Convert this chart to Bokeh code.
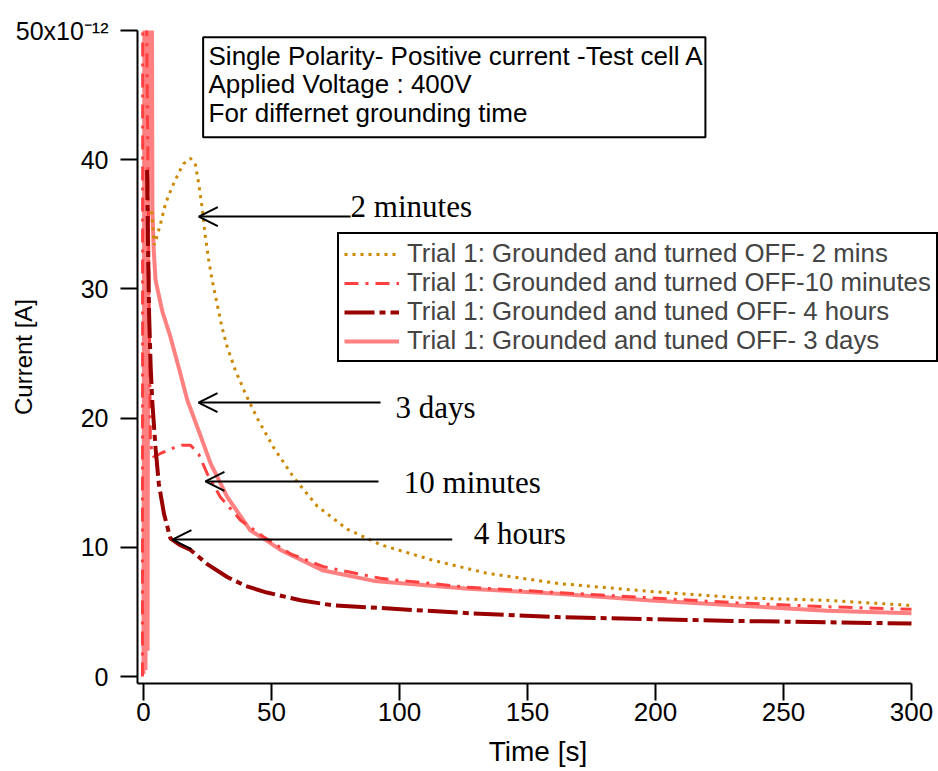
from bokeh.plotting import figure
from bokeh.models import (Range1d, FixedTicker, Legend, LegendItem, Label,
                          BoxAnnotation, Arrow, OpenHead)
from bokeh.embed import file_html
from bokeh.resources import INLINE

# ---- data (current in units of 1e-12 A, time in s) ----
t_2min = [3.2, 4.2, 4.7, 6.6, 8.6, 11.2, 13.8, 15.7, 18.4, 20.3, 21.6, 22.9, 24.2, 25.5,
          26.8, 28.8, 30.7, 32.7, 35.9, 39.8, 44.4, 50.9, 58.7, 67.8, 79.6, 92.6, 113,
          134, 162, 197, 232, 267, 300]
i_2min = [36.0, 33.4, 33.7, 35.0, 36.6, 37.9, 39.0, 39.7, 40.1, 39.6, 38.1, 36.3, 34.0, 32.2,
          30.7, 28.8, 27.0, 25.5, 23.7, 21.9, 20.0, 17.7, 15.4, 13.2, 11.4, 10.2, 9.0,
          8.0, 7.2, 6.6, 6.1, 5.9, 5.5]

t_10min = [-0.4, -0.3, 0.8, 2.7, 4.0, 7.0, 11.8, 15.0, 18.4, 21.6, 24.9, 30.0, 37.9, 47.0,
           57.4, 70.3, 92.6, 127, 162, 197, 232, 267, 300]
i_10min = [0, 60, 60, 18.0, 17.0, 17.3, 17.7, 17.9, 17.9, 17.2, 15.7, 13.9, 12.1, 10.8,
           9.5, 8.5, 7.6, 6.9, 6.5, 6.1, 5.7, 5.4, 5.2]

t_4h = [1.4, 1.8, 2.2, 2.8, 3.4, 4.7, 6.0, 8.0, 10.5, 14.0, 18.4, 24.9, 32.7, 40, 48.2,
        61.3, 74.2, 92.6, 127, 162, 197, 232, 267, 300]
i_4h = [39.2, 33, 28, 24, 21.4, 17.7, 14.9, 12.6, 10.7, 10.2, 9.8, 8.7, 7.7, 7.0, 6.5,
        5.9, 5.5, 5.3, 4.9, 4.6, 4.45, 4.3, 4.2, 4.1]

t_3d = [0.0, 0.4, 0.8, 1.2, 1.6, 2.0, 2.6, 3.2, 3.5, 4.0, 4.7, 7.3, 10.5, 13.8, 17.1, 21.6,
        26.2, 32.7, 41.8, 48.3, 53.5, 70.3, 90, 127, 162, 197, 232, 267, 300]
i_3d = [0.2, 60, 0.5, 60, 2, 60, 60, 60, 36, 33, 30.7, 28.3, 26.3, 23.9, 21.4, 19.0,
        16.5, 13.9, 11.3, 10.5, 9.8, 8.2, 7.4, 6.8, 6.4, 5.9, 5.5, 5.1, 4.9]

labels = ["Trial 1: Grounded and turned OFF- 2 mins",
          "Trial 1: Grounded and turned OFF-10 minutes",
          "Trial 1: Grounded and tuned OFF- 4 hours",
          "Trial 1: Grounded and tuned OFF- 3 days"]

y_ticks = [0, 10, 20, 30, 40, 50]
x_ticks = [0, 50, 100, 150, 200, 250, 300]

SANS = "Liberation Sans"
NARROW = "'Liberation Sans Narrow', 'Arial Narrow', 'Liberation Sans'"
SERIF = "Liberation Serif"

p = figure(width=938, height=771, output_backend="svg", toolbar_location=None,
           x_range=Range1d(-2.34, 310.55), y_range=Range1d(-0.54, 50),
           min_border_left=137, min_border_right=0, min_border_top=30,
           min_border_bottom=88)
p.outline_line_color = None
p.grid.visible = False
p.background_fill_color = "white"
p.border_fill_color = "white"

r_3d = p.line(t_3d, i_3d, line_color="#FF8080", line_width=4)
r_2 = p.line(t_2min, i_2min, line_color="#CC8800", line_width=3, line_dash="3 5")
r_10 = p.line(t_10min, i_10min, line_color="#FF4040", line_width=3, line_dash="14 7 3 7")
r_4h = p.line(t_4h, i_4h, line_color="#990000", line_width=4, line_dash="30 5 6 5")

# axes
ya = p.yaxis[0]
ya.ticker = FixedTicker(ticks=y_ticks)
ya.major_label_overrides = {50: "50x10\u207b\u00b9\u00b2"}
ya.axis_label = "Current [A]"
ya.axis_label_text_font = SANS
ya.axis_label_text_font_style = "normal"
ya.axis_label_text_font_size = "24px"
ya.axis_label_standoff = -24
ya.major_label_text_font = SANS
ya.major_label_text_font_size = "25px"
ya.major_label_standoff = 12

xa = p.xaxis[0]
xa.ticker = FixedTicker(ticks=x_ticks)
xa.bounds = (-2.34, 300)
xa.axis_label = "Time [s]"
xa.axis_label_text_font = NARROW
xa.axis_label_text_font_style = "normal"
xa.axis_label_text_font_size = "28px"
xa.axis_label_standoff = 12
xa.major_label_text_font = NARROW
xa.major_label_text_font_size = "26px"
xa.major_label_standoff = 2

for ax in (xa, ya):
    ax.axis_line_width = 2
    ax.axis_line_color = "black"
    ax.major_tick_out = 17
    ax.major_tick_in = 0
    ax.major_tick_line_width = 2
    ax.major_tick_line_color = "black"
    ax.minor_tick_line_color = None
    ax.major_label_text_color = "black"
    ax.axis_label_text_color = "black"

# info box
p.add_layout(BoxAnnotation(left=23.3, right=219.5, top=49.48, bottom=41.74,
                           fill_color="white", fill_alpha=1.0,
                           line_color="black", line_width=2, line_alpha=1.0))
box_lines = ["Single Polarity- Positive current -Test cell A",
             "Applied Voltage : 400V",
             "For differnet grounding time"]
for txt, yb in zip(box_lines, [48.03, 45.84, 43.64]):
    p.add_layout(Label(x=25.4, y=yb, text=txt, text_font=SANS, text_font_size="26px",
                       text_baseline="alphabetic", text_color="black"))

# arrows with captions
arrows = [(80.9, 21.6, 35.6), (92.6, 21.5, 21.2), (91.8, 24.2, 15.1), (120.6, 11.3, 10.6)]
for xs, xe, yy in arrows:
    p.add_layout(Arrow(x_start=xs, y_start=yy, x_end=xe, y_end=yy, line_width=2,
                       line_color="black",
                       end=OpenHead(size=19, line_width=2, line_color="black")))
captions = [("2 minutes", 80.9, 36.34), ("3 days", 98.4, 20.86),
            ("10 minutes", 101.7, 15.05), ("4 hours", 129.0, 11.10)]
for txt, xx, yy in captions:
    p.add_layout(Label(x=xx, y=yy, text=txt, text_font=SERIF, text_font_size="31px",
                       text_baseline="alphabetic", text_color="black"))

legend = Legend(items=[LegendItem(label=labels[0], renderers=[r_2]),
                       LegendItem(label=labels[1], renderers=[r_10]),
                       LegendItem(label=labels[2], renderers=[r_4h]),
                       LegendItem(label=labels[3], renderers=[r_3d])],
                location=(200, 321), margin=0, padding=5, spacing=0,
                label_height=29, glyph_height=20, glyph_width=55, label_standoff=8,
                label_text_font=SANS, label_text_font_size="25.8px",
                border_line_color="black", border_line_width=2, border_line_alpha=1.0,
                background_fill_color="white", background_fill_alpha=1.0)
p.add_layout(legend)

open("out.html", "w").write(file_html(p, INLINE))
